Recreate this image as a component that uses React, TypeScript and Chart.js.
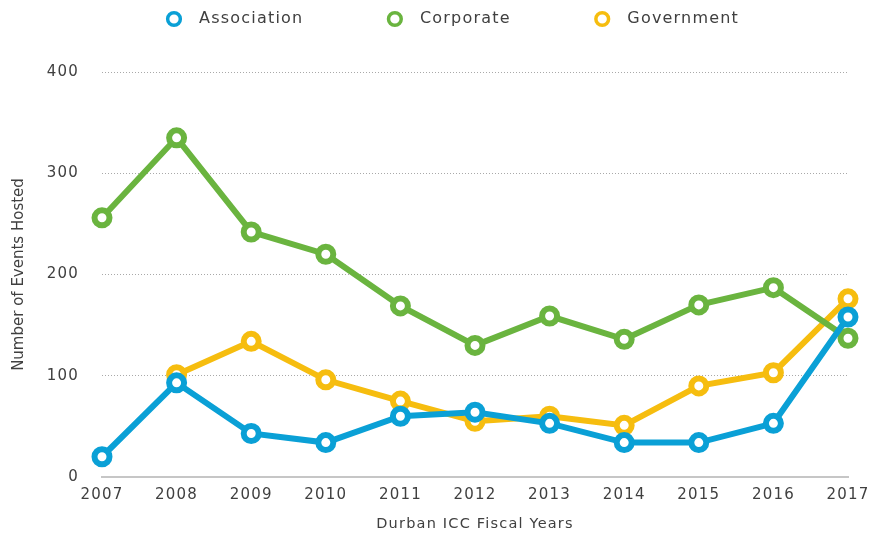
import React, { useEffect, useRef } from 'react';
import { Chart, registerables } from 'chart.js';

Chart.register(...registerables);

const years = ['2007', '2008', '2009', '2010', '2011', '2012', '2013', '2014', '2015', '2016', '2017'];
const association = [20, 93, 43, 34, 60, 64, 53, 34, 34, 53, 158];
const corporate = [256, 335, 242, 220, 169, 130, 159, 136, 170, 187, 137];
const government = [null, 101, 134, 96, 75, 55, 60, 51, 90, 103, 176];
const yTickValues = [0, 100, 200, 300, 400];

const BLUE = '#0aa0d6';
const GREEN = '#6ab43f';
const YELLOW = '#f6bd0f';
const TEXT = '#404040';
const FONT = 'DejaVu Sans';
const LS = '1.2px';
const LEGEND_PAD = 87;

function series(label: string, data: (number | null)[], color: string) {
  return {
    label,
    data,
    borderColor: color,
    backgroundColor: color,
    borderWidth: 6,
    pointRadius: 7.5,
    pointHoverRadius: 7.5,
    pointBorderWidth: 6,
    pointBackgroundColor: '#ffffff',
    pointBorderColor: color,
    tension: 0,
    clip: false as any,
    spanGaps: false,
  };
}

export default function App() {
  const ref = useRef<HTMLCanvasElement>(null);

  useEffect(() => {
    const canvas = ref.current;
    if (!canvas) return;

    const helper = {
      id: 'styleHelper',
      beforeUpdate(chart: any) {
        chart.ctx.letterSpacing = LS;
      },
      afterLayout(chart: any) {
        const lg = chart.legend;
        if (lg) {
          lg.left = 169.5 - LEGEND_PAD;
          lg.top = 19 - LEGEND_PAD - 8;
        }
      },
      beforeDraw(chart: any) {
        chart.ctx.letterSpacing = LS;
        const ys: any = chart.scales.y;
        if (ys && !ys.__patched) {
          const orig = ys.drawTitle;
          ys.drawTitle = function (...args: any[]) {
            const c = this.ctx;
            const prev = c.letterSpacing;
            c.letterSpacing = '0px';
            orig.apply(this, args);
            c.letterSpacing = prev;
          };
          ys.__patched = true;
        }
      },
    };

    const chart = new Chart(canvas, {
      type: 'line',
      data: {
        labels: years,
        datasets: [
          series('Association', association, BLUE),
          series('Corporate', corporate, GREEN),
          series('Government', government, YELLOW),
        ],
      },
      options: {
        animation: false,
        responsive: false,
        devicePixelRatio: 1,
        layout: { padding: { top: 12, right: 23, left: 0, bottom: 0 } },
        plugins: {
          tooltip: { enabled: false },
          legend: {
            position: 'top',
            align: 'start',
            maxHeight: 60,
            labels: {
              usePointStyle: true,
              pointStyle: 'circle',
              boxWidth: 9,
              boxHeight: 9,
              padding: LEGEND_PAD,
              color: TEXT,
              font: { family: FONT, size: 16 },
              generateLabels: (c: any) => {
                const items = (Chart.defaults as any).plugins.legend.labels.generateLabels(c);
                return items.map((it: any) => ({
                  ...it,
                  text: '  ' + it.text,
                  lineWidth: 3.5,
                  fillStyle: '#ffffff',
                }));
              },
            },
          } as any,
        },
        scales: {
          x: {
            grid: { display: false, drawTicks: false },
            border: { display: true, color: '#c6c6c6', width: 2 },
            ticks: {
              color: TEXT,
              font: { family: FONT, size: 15 },
              padding: 9,
              maxRotation: 0,
              autoSkip: false,
            },
            title: {
              display: true,
              text: 'Durban ICC Fiscal Years',
              color: TEXT,
              font: { family: FONT, size: 14.5 },
              padding: { top: 0, bottom: 0 },
            },
            afterFit: (scale: any) => {
              scale.height = 56;
              scale.paddingLeft = 0;
              scale.paddingRight = 0;
            },
          },
          y: {
            min: 0,
            max: 400,
            afterBuildTicks: (scale: any) => {
              scale.ticks = yTickValues.map((v) => ({ value: v }));
            },
            grid: {
              color: (ctx: any) => (ctx.tick && ctx.tick.value === 0 ? 'rgba(0,0,0,0)' : '#a9a9a9'),
              lineWidth: 1,
              drawTicks: false,
            },
            border: { display: false, dash: [1, 2] },
            ticks: {
              color: TEXT,
              font: { family: FONT, size: 15 },
              padding: 23,
            },
            title: {
              display: true,
              text: 'Number of Events Hosted',
              color: TEXT,
              font: { family: FONT, size: 15 },
              padding: { top: 10, bottom: 0 },
            },
            afterFit: (scale: any) => {
              scale.width = 102;
            },
          },
        },
      } as any,
      plugins: [helper],
    });

    return () => chart.destroy();
  }, []);

  return (
    <div style={{ position: 'fixed', left: 0, top: 0, width: 871, height: 533, background: '#ffffff' }}>
      <canvas ref={ref} width={871} height={533} style={{ display: 'block' }} />
    </div>
  );
}
